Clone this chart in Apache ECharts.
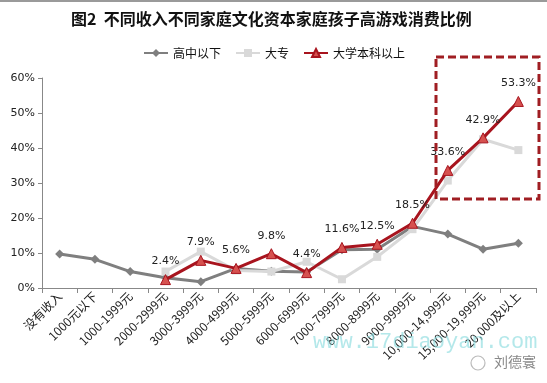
<!DOCTYPE html>
<html>
<head>
<meta charset="utf-8">
<script src="https://cdn.jsdelivr.net/npm/echarts@6/dist/echarts.min.js"></script>
<style>html,body{margin:0;padding:0;background:#fff;}#c{width:547px;height:383px;}</style>
</head>
<body>
<div id="c"></div>
<script>
var categories = ['没有收入','1000元以下','1000-1999元','2000-2999元','3000-3999元','4000-4999元','5000-5999元','6000-6999元','7000-7999元','8000-8999元','9000-9999元','10,000-14,999元','15,000-19,999元','20,000及以上'];
var highSchool = [9.7, 8.2, 4.7, 2.9, 1.8, 5.6, 4.8, 4.6, 10.9, 11.1, 17.6, 15.4, 11.1, 12.8];
var college = [null, null, null, 4.7, 10.4, 5.0, 4.7, 7.5, 2.5, 8.9, 16.8, 30.7, 42.5, 39.4];
var bachelor = [null, null, null, 2.4, 7.9, 5.6, 9.8, 4.4, 11.6, 12.5, 18.5, 33.6, 42.9, 53.3];
var yTicks = [0, 10, 20, 30, 40, 50, 60];
var seriesNames = ['高中以下', '大专', '大学本科以上'];

var chart = echarts.init(document.getElementById('c'));
var cjk = '"Noto Sans CJK SC", sans-serif';
var num = '"DejaVu Sans", sans-serif';
chart.setOption({
  animation: false,
  backgroundColor: '#fff',
  title: {
    text: '图2  不同收入不同家庭文化资本家庭孩子高游戏消费比例',
    left: 66, top: 6,
    textStyle: { fontFamily: cjk, fontSize: 16, fontWeight: 'bold', color: '#111' }
  },
  legend: {
    data: seriesNames,
    top: 42, left: 138,
    itemWidth: 24, itemHeight: 10, itemGap: 14,
    textStyle: { fontFamily: cjk, fontSize: 12, color: '#111' }
  },
  grid: { left: 42, right: 11, top: 78, bottom: 95, containLabel: false },
  xAxis: {
    type: 'category',
    data: categories,
    boundaryGap: true,
    axisLine: { lineStyle: { color: '#888', width: 1 } },
    axisTick: { show: true, alignWithLabel: false, length: 5, lineStyle: { color: '#888' } },
    axisLabel: { rotate: 45, interval: 0, fontFamily: cjk, fontSize: 12, color: '#222', margin: 6 },
    splitLine: { show: false }
  },
  yAxis: {
    type: 'value',
    min: yTicks[0], max: yTicks[yTicks.length - 1], interval: 10,
    axisLine: { show: true, lineStyle: { color: '#888', width: 1 } },
    axisTick: { show: true, length: 4, lineStyle: { color: '#888' } },
    axisLabel: { formatter: '{value}%', fontFamily: num, fontSize: 11, color: '#222', margin: 7 },
    splitLine: { show: false }
  },
  series: [
    {
      name: seriesNames[0], type: 'line', data: highSchool,
      symbol: 'diamond', symbolSize: 9,
      lineStyle: { color: '#7F7F7F', width: 3 },
      itemStyle: { color: '#7F7F7F' },
      z: 2
    },
    {
      name: seriesNames[1], type: 'line', data: college,
      symbol: 'rect', symbolSize: 8,
      lineStyle: { color: '#D9D9D9', width: 3 },
      itemStyle: { color: '#D9D9D9' },
      z: 3
    },
    {
      name: seriesNames[2], type: 'line', data: bachelor,
      symbol: 'triangle', symbolSize: 10,
      lineStyle: { color: '#A8141E', width: 3 },
      itemStyle: { color: '#D6514F', borderColor: '#A8141E', borderWidth: 1 },
      label: {
        show: true, position: 'top', distance: 7,
        fontFamily: num, fontSize: 11, color: '#222',
        formatter: function (p) { return p.value.toFixed(1) + '%'; }
      },
      z: 4
    }
  ],
  graphic: [
    { type: 'rect', shape: { x: 0, y: 0, width: 547, height: 2 }, style: { fill: '#9a9a9a' }, silent: true },
    { type: 'rect', shape: { x: 436, y: 57, width: 103, height: 142 },
      style: { fill: 'none', stroke: '#A01E23', lineWidth: 3, lineDash: [8, 4] }, z: 10, silent: true },
    { type: 'text', x: 313, y: 331, z: 20, silent: true,
      style: { text: 'www.17diaoyan.com', font: '22px "Liberation Mono", "DejaVu Sans Mono", monospace', fill: 'rgba(140,220,222,0.65)' } },
    { type: 'circle', shape: { cx: 478, cy: 363, r: 7 }, z: 20, silent: true,
      style: { fill: 'none', stroke: '#bbb', lineWidth: 1.2 } },
    { type: 'text', x: 494, y: 355, z: 20, silent: true,
      style: { text: '刘德寰', font: '14px "Noto Sans CJK SC", sans-serif', fill: '#888' } }
  ]
});
</script>
</body>
</html>
